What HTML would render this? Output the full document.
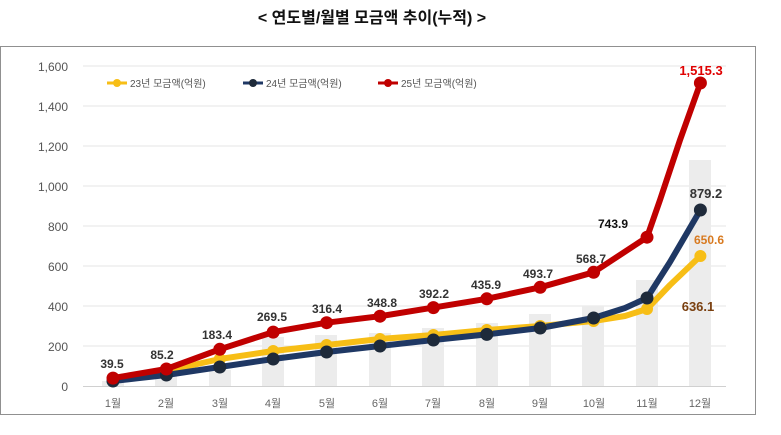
<!DOCTYPE html>
<html><head><meta charset="utf-8"><style>
body{margin:0;background:#fff;width:781px;height:430px;overflow:hidden;font-family:"Liberation Sans","Noto Sans CJK KR",sans-serif}
</style></head><body>
<svg width="781" height="430" xmlns="http://www.w3.org/2000/svg" font-family="Liberation Sans, Noto Sans CJK KR, sans-serif">
<text x="372" y="23" text-anchor="middle" font-size="16" font-weight="bold" fill="#111">&lt;  연도별/월별 모금액 추이(누적)  &gt;</text>
<rect x="0.5" y="46.5" width="755" height="368" fill="none" stroke="#222" stroke-dasharray="1,1"/>
<g stroke="#e4e4e4" stroke-width="1">
<line x1="83" x2="726" y1="66" y2="66"/><line x1="83" x2="726" y1="106" y2="106"/><line x1="83" x2="726" y1="146" y2="146"/><line x1="83" x2="726" y1="186" y2="186"/><line x1="83" x2="726" y1="226" y2="226"/><line x1="83" x2="726" y1="266" y2="266"/><line x1="83" x2="726" y1="306" y2="306"/><line x1="83" x2="726" y1="346" y2="346"/>
</g>
<g fill="#ececec">
<rect x="102" y="381" width="22" height="5"/><rect x="155" y="374" width="22" height="12"/><rect x="209" y="370" width="22" height="16"/><rect x="262" y="337" width="22" height="49"/><rect x="315" y="335" width="22" height="51"/><rect x="369" y="333" width="22" height="53"/><rect x="422" y="328" width="22" height="58"/><rect x="476" y="323" width="22" height="63"/><rect x="529" y="314" width="22" height="72"/><rect x="582" y="306" width="22" height="80"/><rect x="636" y="280" width="22" height="106"/><rect x="689" y="160" width="22" height="226"/>
</g>
<line x1="83" x2="726" y1="386.5" y2="386.5" stroke="#d0d0d0"/>
<g fill="#555" font-size="12" text-anchor="end">
<text x="68" y="71">1,600</text><text x="68" y="111">1,400</text><text x="68" y="151">1,200</text><text x="68" y="191">1,000</text><text x="68" y="231">800</text><text x="68" y="271">600</text><text x="68" y="311">400</text><text x="68" y="351">200</text><text x="68" y="391">0</text>
</g>
<g fill="#666" font-size="11" text-anchor="middle">
<text x="113" y="407">1월</text><text x="166" y="407">2월</text><text x="220" y="407">3월</text><text x="273" y="407">4월</text><text x="327" y="407">5월</text><text x="380" y="407">6월</text><text x="433" y="407">7월</text><text x="487" y="407">8월</text><text x="540" y="407">9월</text><text x="594" y="407">10월</text><text x="647" y="407">11월</text><text x="700" y="407">12월</text>
</g>
<g fill="none" stroke-linejoin="round" stroke-linecap="round" stroke-width="6">
<polyline stroke="#f7be16" points="113,378 166.4,371 219.8,359 273.2,351 326.6,345 380,339 433.4,335 486.8,330 540.2,326 593.6,321 625,316 647,309 670,285 700.4,256"/>
<polyline stroke="#1f3864" points="113,381 166.4,375 219.8,367 273.2,359 326.6,352 380,346 433.4,340 486.8,334.4 540.2,328 593.6,318 625,308 647,298 670,262 700.4,210"/>
<polyline stroke="#c00000" points="113,378.1 166.4,369 219.8,349.3 273.2,332.1 326.6,322.7 380,316.2 433.4,307.6 486.8,298.8 540.2,287.3 593.6,272.3 647,237.2 660,200 680,140 700.4,83"/>
</g>
<g fill="#f7be16"><circle cx="113" cy="378" r="6"/><circle cx="166.4" cy="371" r="6"/><circle cx="219.8" cy="359" r="6"/><circle cx="273.2" cy="351" r="6"/><circle cx="326.6" cy="345" r="6"/><circle cx="380" cy="339" r="6"/><circle cx="433.4" cy="335" r="6"/><circle cx="486.8" cy="330" r="6"/><circle cx="540.2" cy="326" r="6"/><circle cx="593.6" cy="321" r="6"/><circle cx="647" cy="309" r="6"/><circle cx="700.4" cy="256" r="6"/></g>
<g fill="#1e2a3a"><circle cx="113" cy="381" r="6.5"/><circle cx="166.4" cy="375" r="6.5"/><circle cx="219.8" cy="367" r="6.5"/><circle cx="273.2" cy="359" r="6.5"/><circle cx="326.6" cy="352" r="6.5"/><circle cx="380" cy="346" r="6.5"/><circle cx="433.4" cy="340" r="6.5"/><circle cx="486.8" cy="334.4" r="6.5"/><circle cx="540.2" cy="328" r="6.5"/><circle cx="593.6" cy="318" r="6.5"/><circle cx="647" cy="298" r="6.5"/><circle cx="700.4" cy="210" r="6.5"/></g>
<g fill="#c00000"><circle cx="113" cy="378.1" r="6.5"/><circle cx="166.4" cy="369" r="6.5"/><circle cx="219.8" cy="349.3" r="6.5"/><circle cx="273.2" cy="332.1" r="6.5"/><circle cx="326.6" cy="322.7" r="6.5"/><circle cx="380" cy="316.2" r="6.5"/><circle cx="433.4" cy="307.6" r="6.5"/><circle cx="486.8" cy="298.8" r="6.5"/><circle cx="540.2" cy="287.3" r="6.5"/><circle cx="593.6" cy="272.3" r="6.5"/><circle cx="647" cy="237.2" r="6.5"/><circle cx="700.4" cy="83" r="6.5"/></g>
<g fill="#333" font-size="12" font-weight="bold" text-anchor="middle">
<text x="112" y="368">39.5</text><text x="162" y="359">85.2</text><text x="217" y="339">183.4</text><text x="272" y="321">269.5</text><text x="327" y="313">316.4</text><text x="382" y="307">348.8</text><text x="434" y="298">392.2</text><text x="486" y="289">435.9</text><text x="538" y="278">493.7</text><text x="591" y="263">568.7</text><text x="613" y="228" fill="#111">743.9</text>
<text x="701" y="75" fill="#e00000" font-size="13">1,515.3</text>
<text x="706" y="198" font-size="13">879.2</text>
<text x="709" y="244" fill="#d87a20">650.6</text>
<text x="698" y="311" fill="#7a4010" font-size="13">636.1</text>
</g>
<g font-size="10" fill="#555">
<line x1="107" x2="127" y1="83" y2="83" stroke="#f7be16" stroke-width="3"/><circle cx="117" cy="83" r="4" fill="#f7be16"/><text x="130" y="87">23년 모금액(억원)</text>
<line x1="243" x2="263" y1="83" y2="83" stroke="#1f3864" stroke-width="3"/><circle cx="253" cy="83" r="4" fill="#1e2a3a"/><text x="266" y="87">24년 모금액(억원)</text>
<line x1="378" x2="398" y1="83" y2="83" stroke="#c00000" stroke-width="3"/><circle cx="388" cy="83" r="4" fill="#c00000"/><text x="401" y="87">25년 모금액(억원)</text>
</g>
</svg>
</body></html>
